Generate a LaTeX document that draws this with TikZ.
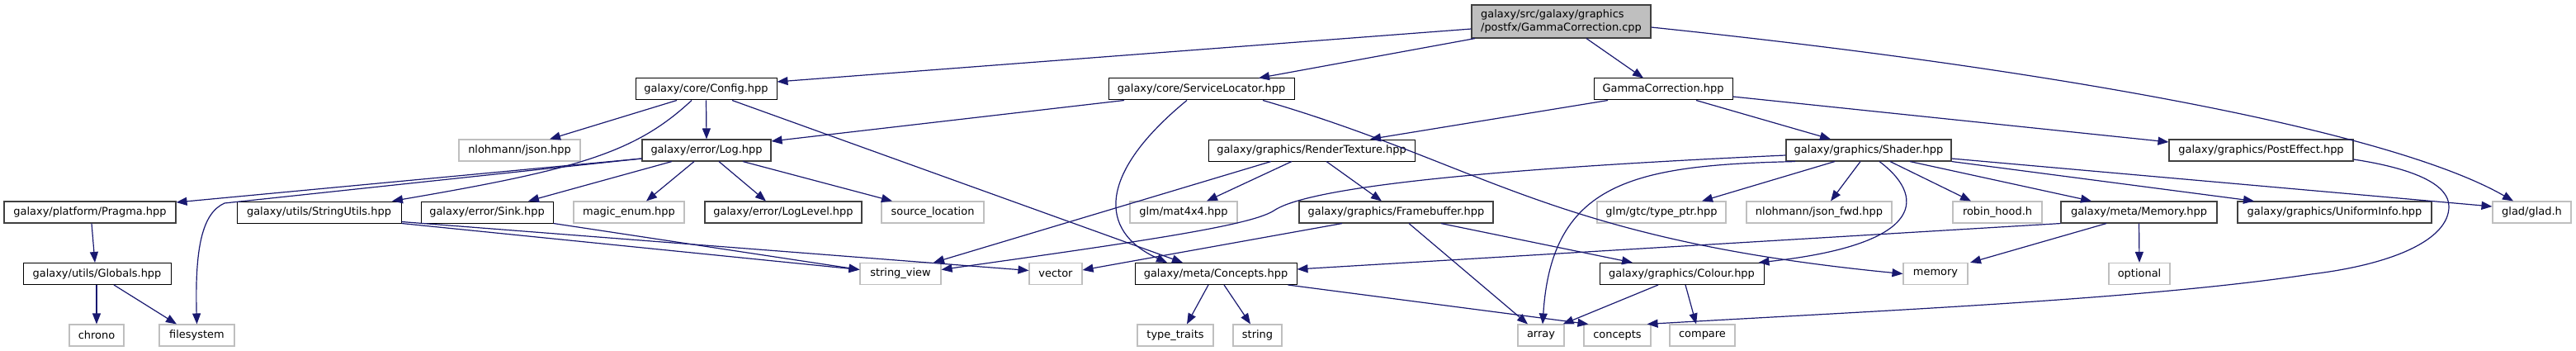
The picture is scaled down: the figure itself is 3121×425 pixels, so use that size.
\documentclass[tikz,border=0pt]{standalone}
\usepackage{fontspec}
\setmainfont{DejaVu Sans}
\usetikzlibrary{arrows.meta}
\definecolor{edgec}{HTML}{191970}
\definecolor{extc}{HTML}{BFBFBF}
\definecolor{docc}{HTML}{404040}
\begin{document}
\begin{tikzpicture}[x=1pt,y=-1pt,
  every node/.style={font=\fontsize{12.95}{15.5}\selectfont, inner sep=0pt, minimum height=26pt},
  doc/.style={draw=black, fill=white, line width=1pt},
  docg/.style={draw=docc, fill=white, line width=1.1pt},
  ext/.style={draw=extc, fill=white, line width=1.1pt},
  rootn/.style={draw=docc, fill=extc, line width=1.1pt, align=left, minimum height=40pt},
  e/.style={draw=edgec, line width=1.2pt, -{Triangle[length=13pt,width=10pt]}},
]
\useasboundingbox (0,0) rectangle (3121,425);
% rank 0
\node[rootn, minimum width=217pt] (top) at (1891.5,26) {galaxy/src/galaxy/graphics\\/postfx/GammaCorrection.cpp};
% rank 1
\node[doc, minimum width=171pt] (config) at (855.5,108) {galaxy/core/Config.hpp};
\node[doc, minimum width=225pt] (sl) at (1455.5,108) {galaxy/core/ServiceLocator.hpp};
\node[doc, minimum width=168pt] (gh) at (2015,108) {GammaCorrection.hpp};
% rank 2
\node[ext, minimum width=147pt] (nl) at (629.5,182) {nlohmann/json.hpp};
\node[docg, minimum width=156pt] (log) at (856,182) {galaxy/error/Log.hpp};
\node[doc, minimum width=250pt] (rt) at (1589,182) {galaxy/graphics/RenderTexture.hpp};
\node[docg, minimum width=200pt] (shader) at (2264,182) {galaxy/graphics/Shader.hpp};
\node[docg, minimum width=223pt] (pe) at (2739.5,182) {galaxy/graphics/PostEffect.hpp};
% rank 3
\node[docg, minimum width=208pt] (pragma) at (109,257) {galaxy/platform/Pragma.hpp};
\node[doc, minimum width=199pt] (su) at (386.5,257) {galaxy/utils/StringUtils.hpp};
\node[doc, minimum width=160pt] (sink) at (590,257) {galaxy/error/Sink.hpp};
\node[ext, minimum width=134pt] (me) at (762,257) {magic\_enum.hpp};
\node[docg, minimum width=190pt] (ll) at (949,257) {galaxy/error/LogLevel.hpp};
\node[ext, minimum width=124pt] (sloc) at (1130,257) {source\_location};
\node[ext, minimum width=130pt] (mat) at (1434,257) {glm/mat4x4.hpp};
\node[docg, minimum width=235pt] (fb) at (1691.5,257) {galaxy/graphics/Framebuffer.hpp};
\node[ext, minimum width=156pt] (tp) at (2013,257) {glm/gtc/type\_ptr.hpp};
\node[ext, minimum width=176pt] (jf) at (2204,257) {nlohmann/json\_fwd.hpp};
\node[ext, minimum width=108pt] (rh) at (2420,257) {robin\_hood.h};
\node[docg, minimum width=189pt] (mem) at (2591.5,257) {galaxy/meta/Memory.hpp};
\node[docg, minimum width=235pt] (ui) at (2828.5,257) {galaxy/graphics/UniformInfo.hpp};
\node[ext, minimum width=95pt] (glad) at (3067.5,257) {glad/glad.h};
% rank 4
\node[doc, minimum width=179pt] (globals) at (117.5,331.5) {galaxy/utils/Globals.hpp};
\node[ext, minimum width=98pt] (sv) at (1091,331.5) {string\_view};
\node[ext, minimum width=64pt] (vec) at (1279,331.5) {vector};
\node[doc, minimum width=196pt] (mcon) at (1473,331.5) {galaxy/meta/Concepts.hpp};
\node[doc, minimum width=199pt] (colour) at (2037.5,331.5) {galaxy/graphics/Colour.hpp};
\node[ext, minimum width=78pt] (smem) at (2345,331.5) {memory};
\node[ext, minimum width=74pt] (opt) at (2592,331.5) {optional};
% rank 5
\node[ext, minimum width=66pt] (chrono) at (117,406) {chrono};
\node[ext, minimum width=91pt] (fs) at (238.5,406) {filesystem};
\node[ext, minimum width=92pt] (tt) at (1424,406) {type\_traits};
\node[ext, minimum width=59pt] (str) at (1523.5,406) {string};
\node[ext, minimum width=56pt] (array) at (1867,406) {array};
\node[ext, minimum width=81pt] (scon) at (1959.5,406) {concepts};
\node[ext, minimum width=79pt] (cmp) at (2062.5,406) {compare};
% edges from root
\draw[e] ([yshift=-9pt]top.west) -- ([yshift=9pt]config.east);
\draw[e] ([xshift=-104.5pt]top.south) -- ([xshift=69.5pt]sl.north);
\draw[e] ([xshift=30.5pt]top.south) -- ([xshift=-24pt]gh.north);
\draw[e] ([yshift=-7pt]top.east) .. controls (2500,85) and (2900,160) .. ([xshift=-22.5pt]glad.north);
% Config
\draw[e] ([xshift=-35.5pt]config.south) -- ([xshift=36.5pt]nl.north);
\draw[e] (config.south) -- (log.north);
\draw[e] ([xshift=-17.5pt]config.south) .. controls (770,185) and (700,205) .. ([xshift=88.5pt]su.north);
\draw[e] ([xshift=31.5pt]config.south) -- ([xshift=-40pt]mcon.north);
% ServiceLocator
\draw[e] ([xshift=-93.5pt]sl.south) -- ([yshift=11pt]log.east);
\draw[e] ([xshift=-17.5pt]sl.south) .. controls (1330,210) and (1330,280) .. ([xshift=-59pt]mcon.north);
\draw[e] ([xshift=74.5pt]sl.south) .. controls (1800,200) and (1880,290) .. (smem.west);
% GammaCorrection.hpp
\draw[e] ([xshift=-67pt]gh.south) -- ([xshift=71pt]rt.north);
\draw[e] ([xshift=40pt]gh.south) -- ([xshift=-46pt]shader.north);
\draw[e] ([yshift=-9pt]gh.east) -- ([yshift=10pt]pe.west);
% Log
\draw[e] ([yshift=-10pt]log.west) -- ([yshift=12pt]pragma.east);
\draw[e] ([yshift=-10pt]log.west) .. controls (450,227) and (300,243) .. (272,246) .. controls (245,258) and (236,300) .. (fs.north);
\draw[e] ([xshift=-42pt]log.south) -- ([xshift=50pt]sink.north);
\draw[e] ([xshift=-15pt]log.south) -- ([xshift=21pt]me.north);
\draw[e] ([xshift=15pt]log.south) -- ([xshift=-21pt]ll.north);
\draw[e] ([xshift=44pt]log.south) -- ([xshift=-49pt]sloc.north);
% Pragma, Globals
\draw[e] ([xshift=2pt]pragma.south) -- ([xshift=-2.5pt]globals.north);
\draw[e] ([xshift=-0.5pt]globals.south) -- (chrono.north);
\draw[e] ([xshift=20.5pt]globals.south) -- ([xshift=-24.5pt]fs.north);
% StringUtils, Sink
\draw[e] (su.south east) -- ([yshift=5pt]sv.west);
\draw[e] ([yshift=2pt]su.south east) -- ([yshift=4pt]vec.west);
\draw[e] (sink.south east) -- ([yshift=5pt]sv.west);
% RenderTexture
\draw[e] ([xshift=-49pt]rt.south) -- ([xshift=40pt]sv.north);
\draw[e] ([xshift=-24pt]rt.south) -- ([xshift=28pt]mat.north);
\draw[e] ([xshift=18pt]rt.south) -- ([xshift=-17.5pt]fb.north);
% Shader
\draw[e] ([yshift=-6pt]shader.west) .. controls (1900,200) and (1600,220) .. (1545,254) .. controls (1520,272) and (1400,290) .. ([yshift=5pt]sv.east);
\draw[e] ([xshift=-89pt]shader.south) .. controls (1980,200) and (1880,220) .. ([xshift=2pt]array.north);
\draw[e] ([xshift=-41pt]shader.south) -- ([xshift=49pt]tp.north);
\draw[e] ([xshift=-10pt]shader.south) -- ([xshift=14pt]jf.north);
\draw[e] ([xshift=13pt]shader.south) .. controls (2330,235) and (2340,295) .. ([xshift=-7pt]colour.north east);
\draw[e] ([xshift=26pt]shader.south) -- ([xshift=-32pt]rh.north);
\draw[e] ([xshift=50pt]shader.south) -- ([xshift=-57.5pt]mem.north);
\draw[e] (shader.south east) -- ([xshift=-97.5pt]ui.north);
\draw[e] ([yshift=-10pt]shader.east) -- ([yshift=7pt]glad.west);
% PostEffect
\draw[e] ([yshift=-11pt]pe.east) .. controls (2930,205) and (2967,225) .. (2967,250) .. controls (2967,290) and (2900,320) .. (2800,332) .. controls (2600,362) and (2300,375) .. ([xshift=-5pt]scon.north east);
% Memory
\draw[e] ([xshift=-39.5pt]mem.south) -- ([xshift=42pt]smem.north);
\draw[e] (mem.south) -- (opt.north);
\draw[e] (mem.south west) -- ([yshift=5.5pt]mcon.east);
% Concepts
\draw[e] ([xshift=-9pt]mcon.south) -- ([xshift=14pt]tt.north);
\draw[e] ([xshift=10pt]mcon.south) -- ([xshift=-8.5pt]str.north);
\draw[e] ([xshift=-11pt]mcon.south east) -- ([xshift=6pt]scon.north west);
% Framebuffer
\draw[e] ([xshift=-65.5pt]fb.south) -- ([yshift=4.5pt]vec.east);
\draw[e] ([xshift=15.5pt]fb.south) -- ([xshift=-16pt]array.north);
\draw[e] ([xshift=54.5pt]fb.south) -- ([xshift=-59.5pt]colour.north);
% Colour
\draw[e] ([xshift=-28.5pt]colour.south) -- ([xshift=-2pt]array.north east);
\draw[e] ([xshift=4.5pt]colour.south) -- ([xshift=-7.5pt]cmp.north);
\end{tikzpicture}
\end{document}
